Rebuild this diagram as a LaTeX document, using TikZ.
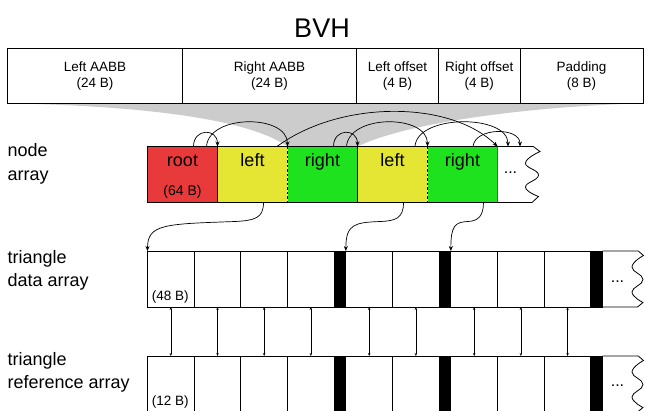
\documentclass[tikz,border=0pt]{standalone}
\usepackage{fontspec}
\setmainfont{Liberation Sans}
\usetikzlibrary{arrows.meta,calc}
\definecolor{rootred}{RGB}{232,58,58}
\definecolor{leftyel}{RGB}{229,229,52}
\definecolor{rightgrn}{RGB}{31,226,31}
\definecolor{funnelgray}{RGB}{204,204,204}
\begin{document}
\begin{tikzpicture}[x=1pt,y=-1pt,
  line width=0.8pt,
  tcell/.style={draw, rectangle, inner sep=0pt, outer sep=0pt, minimum height=55pt, anchor=north west, align=center, font=\fontsize{13.5}{16}\selectfont},
  ncell/.style={draw, rectangle, inner sep=0pt, outer sep=0pt, minimum width=70pt, minimum height=56pt, anchor=north west},
  dcell/.style={draw, rectangle, inner sep=0pt, outer sep=0pt, minimum width=46.67pt, minimum height=56pt, anchor=north west},
  barcell/.style={draw, fill=black, rectangle, inner sep=0pt, outer sep=0pt, minimum width=11.67pt, minimum height=56pt, anchor=north west},
  lbl/.style={anchor=base west, align=left, font=\fontsize{18}{23.3}\selectfont, inner sep=0pt},
  ntext/.style={anchor=base, font=\fontsize{18}{20}\selectfont, inner sep=0pt},
  stext/.style={anchor=base west, font=\fontsize{13.5}{15}\selectfont, inner sep=0pt},
  dots/.style={anchor=base, font=\fontsize{16}{18}\selectfont, inner sep=0pt},
  ptr/.style={-{Stealth[length=5pt,width=4pt]}, line width=0.7pt},
  link/.style={{Stealth[length=3pt,width=2.4pt]}-{Stealth[length=3pt,width=2.4pt]}, line width=0.5pt},
]
\useasboundingbox (0,0) rectangle (645,410);

% title
\node[anchor=base, font=\fontsize{27}{30}\selectfont, inner sep=0pt] (title) at (322,37.5) {BVH};

% node array cells (positions needed for funnel)
\path (147.5,146.5) node[ncell, draw=none] (nroot) {};
\path (nroot.north east) node[ncell, draw=none] (nleft1) {};
\path (nleft1.north east) node[ncell, draw=none] (nright1) {};
\path (nright1.north east) node[ncell, draw=none] (nleft2) {};
\path (nleft2.north east) node[ncell, draw=none] (nright2) {};
\coordinate (nmore) at (nright2.north east);

% top table coordinates
\coordinate (tsw) at (7.5,103.3);
\coordinate (tse) at (643,103.3);

% funnel
\fill[funnelgray] (tsw) .. controls (150,106) and (250,120) .. (nright1.north west)
  -- (nright1.north east) .. controls (410,121) and (540,106) .. (tse) -- cycle;

% top table
\node[tcell, minimum width=175pt] (laabb) at (7.5,48.3) {Left AABB\\(24 B)};
\node[tcell, minimum width=174pt] (raabb) at (laabb.north east) {Right AABB\\(24 B)};
\node[tcell, minimum width=82pt] (loff) at (raabb.north east) {Left offset\\(4 B)};
\node[tcell, minimum width=81.5pt] (roff) at (loff.north east) {Right offset\\(4 B)};
\node[tcell, minimum width=123pt] (pad) at (roff.north east) {Padding\\(8 B)};

% node array
\node[ncell, fill=rootred] at (nroot.north west) {};
\node[ncell, fill=leftyel] at (nleft1.north west) {};
\node[ncell, fill=rightgrn] at (nright1.north west) {};
\node[ncell, fill=leftyel] at (nleft2.north west) {};
\node[ncell, fill=rightgrn] at (nright2.north west) {};
\draw[fill=white] (nmore) -- (533.3,146.5) -- plot[smooth, tension=0.8] coordinates {(540,151.5) (525.5,163) (538.5,175) (525.5,187) (538.5,196.5)} -- (532,202.5) -- (nright2.south east);
\foreach \n in {nleft1,nleft2}{
  \draw[white, line width=1.4pt] (\n.north east) -- (\n.south east);
  \draw[dash pattern=on 2.5pt off 2pt] (\n.north east) -- (\n.south east);
}
\node[ntext] at ([yshift=-20pt]nroot.north) {root};
\node[anchor=base, font=\fontsize{14}{16}\selectfont, inner sep=0pt] at ([yshift=-48.5pt]nroot.north) {(64 B)};
\node[ntext] at ([yshift=-20pt]nleft1.north) {left};
\node[ntext] at ([yshift=-20pt]nright1.north) {right};
\node[ntext] at ([yshift=-20pt]nleft2.north) {left};
\node[ntext] at ([yshift=-20pt]nright2.north) {right};
\node[dots] at (510.5,173.3) {...};

% arcs above node array
\draw[ptr] ([xshift=46pt]nroot.north west) .. controls (193.5,128) and (217.5,128) .. (nleft1.north west);
\draw[ptr] ([xshift=59pt]nroot.north west) .. controls (209,114) and (287.5,114) .. (nright1.north west);
\draw[ptr] ([xshift=59.5pt]nleft1.north west) .. controls (340,100) and (450,100) .. (nmore);
\draw[ptr] ([xshift=46pt]nright1.north west) .. controls (333.5,128) and (357.5,128) .. (nleft2.north west);
\draw[ptr] ([xshift=59pt]nright1.north west) .. controls (349,114) and (427.5,114) .. (nright2.north west);
\draw[ptr] ([xshift=57.5pt]nleft2.north west) .. controls (417,114) and (508,114) .. ([xshift=10.5pt]nmore);
\draw[ptr] ([xshift=45.5pt]nright2.north west) .. controls (475,127) and (520,127) .. ([xshift=22.5pt]nmore);

% triangle data array
\node[dcell] (d1) at (147.5,251) {};
\node[dcell] (d2) at (d1.north east) {};
\node[dcell] (d3) at (d2.north east) {};
\node[dcell] (d4) at (d3.north east) {};
\node[barcell] (db1) at (d4.north east) {};
\node[dcell] (d5) at (db1.north east) {};
\node[dcell] (d6) at (d5.north east) {};
\node[barcell] (db2) at (d6.north east) {};
\node[dcell] (d7) at (db2.north east) {};
\node[dcell] (d8) at (d7.north east) {};
\node[dcell] (d9) at (d8.north east) {};
\node[barcell] (db3) at (d9.north east) {};
\draw (db3.north east) -- (638.3,251) -- plot[smooth, tension=0.8] coordinates {(643.5,255.5) (632,267) (643,279.5) (632,292) (643,302.5)} -- (637.5,307) -- (db3.south east);
\node[stext] at (151.5,300.7) {(48 B)};
\node[dots] at (617.5,282) {...};

% triangle reference array
\node[dcell] (r1) at (147.5,356) {};
\node[dcell] (r2) at (r1.north east) {};
\node[dcell] (r3) at (r2.north east) {};
\node[dcell] (r4) at (r3.north east) {};
\node[barcell] (rb1) at (r4.north east) {};
\node[dcell] (r5) at (rb1.north east) {};
\node[dcell] (r6) at (r5.north east) {};
\node[barcell] (rb2) at (r6.north east) {};
\node[dcell] (r7) at (rb2.north east) {};
\node[dcell] (r8) at (r7.north east) {};
\node[dcell] (r9) at (r8.north east) {};
\node[barcell] (rb3) at (r9.north east) {};
\draw (rb3.north east) -- (638.3,356) -- plot[smooth, tension=0.8] coordinates {(643.5,360.5) (632,372) (643,384.5) (632,397) (643,407.5)} -- (637.5,412) -- (rb3.south east);
\node[stext] at (151.5,405.5) {(12 B)};
\node[dots] at (617.5,386) {...};

% links between data and reference arrays
\foreach \i in {1,...,9}{
  \draw[link] (d\i.south) -- (r\i.north);
}

% pointers from leaves to triangle data
\draw[ptr] ([xshift=46pt]nleft1.south west) .. controls (263.5,218) and (255,220.5) .. (235,221.5) .. controls (165,224) and (147.5,224) .. (d1.north west);
\draw[ptr] ([xshift=46pt]nleft2.south west) .. controls (403.5,218) and (396,221) .. (380,221.5) .. controls (355,222.5) and (345.8,224) .. (db1.north east);
\draw[ptr] ([xshift=56pt]nright2.south west) .. controls (483.5,216) and (478,221) .. (468,221.5) .. controls (455,222) and (450.8,226) .. (db2.north east);

% side labels (anchor base = baseline of last line)
\node[lbl] (lnode) at (7.3,180) {node\\array};
\node[lbl] (ldata) at (7.3,286.7) {triangle\\data array};
\node[lbl] (lref) at (7.3,388.3) {triangle\\reference array};
\end{tikzpicture}
\end{document}
